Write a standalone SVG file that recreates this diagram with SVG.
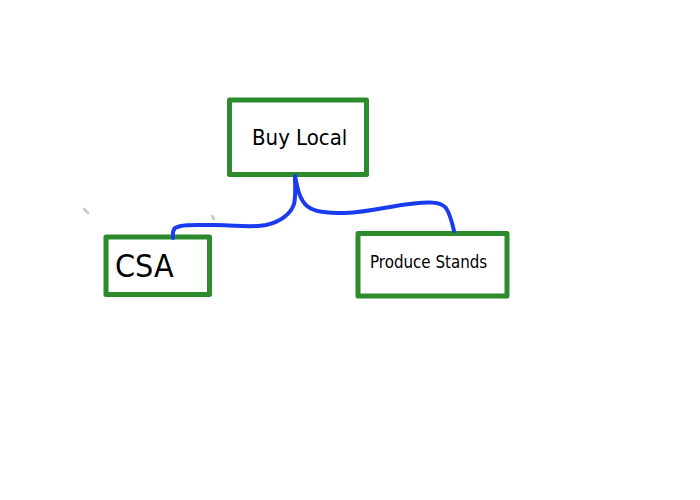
<svg xmlns="http://www.w3.org/2000/svg" width="700" height="500" viewBox="0 0 700 500">
  <style>
    .box { fill: #ffffff; stroke: #2d8a2d; stroke-width: 5; stroke-linejoin: round; }
    .lbl { font-family: "DejaVu Sans Condensed", "DejaVu Sans", sans-serif; fill: #000000; }
    .conn { fill: none; stroke: #1a3cf0; stroke-width: 4; stroke-linecap: round; stroke-linejoin: round; }
    .speck { stroke: #c8c8c8; stroke-width: 2.5; stroke-linecap: round; }
  </style>
  <rect width="700" height="500" fill="#ffffff"/>
  <g id="specks">
    <line class="speck" x1="84" y1="209" x2="88" y2="213"/>
    <line class="speck" x1="212" y1="216" x2="214" y2="219"/>
  </g>
  <g id="node-buy-local">
    <rect class="box" x="229.5" y="100" width="137" height="74.5"/>
    <text class="lbl" x="252" y="145" font-size="22">Buy Local</text>
  </g>
  <g id="node-csa">
    <rect class="box" x="106" y="237" width="103.5" height="57.5"/>
    <text class="lbl" x="115" y="277" font-size="32">CSA</text>
  </g>
  <g id="node-produce-stands">
    <rect class="box" x="358" y="233.5" width="149" height="62.5"/>
    <text class="lbl" x="370" y="268" font-size="16.8">Produce Stands</text>
  </g>
  <g id="connectors">
    <path class="conn" d="M295,176 C295,185 296,196 294,204 C291,214 280,222 266,225 C250,228 236,225 215,225 C195,225 182,224 175,228 C172,231 173,235 173,238"/>
    <path class="conn" d="M295,176 C297,186 299,199 307,206 C314,212 326,213 345,213 C370,212 390,206 410,204 C428,202 440,201 446,208 C450,214 452,222 454,231"/>
  </g>
</svg>
